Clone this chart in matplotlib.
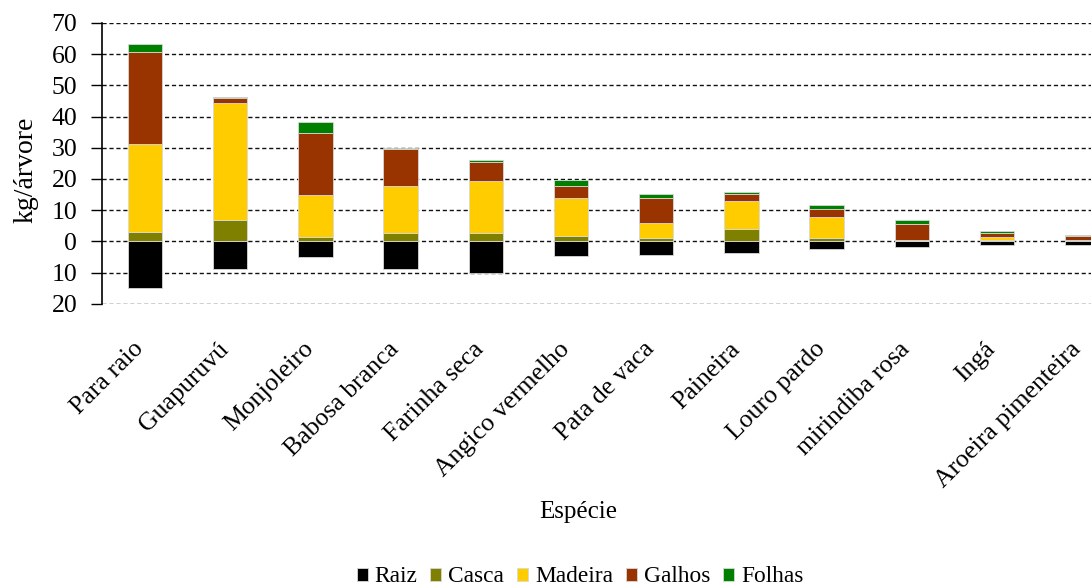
import matplotlib
matplotlib.use("Agg")
import matplotlib.pyplot as plt
from matplotlib.ticker import FuncFormatter
from matplotlib.transforms import ScaledTranslation
import numpy as np

plt.rcParams['font.family'] = ['Liberation Serif', 'DejaVu Serif']

species = ["Para raio", "Guapuruvú", "Monjoleiro", "Babosa branca", "Farinha seca",
           "Angico vermelho", "Pata de vaca", "Paineira", "Louro pardo",
           "mirindiba rosa", "Ingá", "Aroeira pimenteira"]

# kg per tree for each compartment (roots plotted below zero)
raiz = [-15.0, -8.9, -5.1, -8.9, -10.2, -4.7, -4.4, -3.6, -2.4, -1.9, -1.2, -1.2]
casca = [2.9, 6.7, 1.3, 2.7, 2.7, 1.7, 1.0, 3.9, 1.0, 0.1, 0.3, 0.3]
madeira = [28.4, 37.5, 13.6, 15.1, 16.7, 12.3, 4.9, 9.0, 6.9, 0.2, 1.1, 0.3]
galhos = [29.3, 1.6, 19.7, 11.7, 6.2, 3.8, 8.1, 2.4, 2.4, 5.2, 1.3, 1.1]
folhas = [2.5, 0.4, 3.8, 0.4, 0.4, 2.0, 1.3, 0.5, 1.3, 1.2, 0.6, 0.4]

yticks = [-20, -10, 0, 10, 20, 30, 40, 50, 60, 70]

colors = {"Raiz": "#000000", "Casca": "#808000", "Madeira": "#FFCC00",
          "Galhos": "#993300", "Folhas": "#008000"}

TICK_FS = 18.5
LABEL_FS = 18
LEG_FS = 16.8

fig = plt.figure(figsize=(10.91, 5.88), dpi=100)
ax = fig.add_axes([0.0938, 0.4828, 0.9371, 0.4787])

x = np.arange(len(species))
w = 0.404
edge = dict(edgecolor="#d8d8d8", linewidth=0.6)

ax.bar(x, raiz, w, color=colors["Raiz"], label="Raiz", zorder=3, **edge)
bottom = np.zeros(len(species))
for name, vals in [("Casca", casca), ("Madeira", madeira),
                   ("Galhos", galhos), ("Folhas", folhas)]:
    ax.bar(x, vals, w, bottom=bottom, color=colors[name], label=name,
           zorder=3, **edge)
    bottom += np.array(vals)

ax.set_xlim(-0.5, len(species) - 0.5)
ax.set_ylim(-20.1, 70.1)
ax.set_yticks(yticks)
ax.yaxis.set_major_formatter(FuncFormatter(lambda v, p: f"{abs(int(round(v)))}"))
ax.grid(axis="y", color="#111111", linestyle=(0, (3, 2)), linewidth=1.0, zorder=0)
ax.set_axisbelow(True)

for s in ["top", "right", "bottom"]:
    ax.spines[s].set_visible(False)
ax.spines["left"].set_linewidth(1.2)
ax.spines["left"].set_bounds(-20, 70)

ax.tick_params(axis="y", direction="out", length=8, width=1.0, labelsize=TICK_FS, pad=10)
ax.tick_params(axis="x", length=0, labelsize=TICK_FS, pad=30)
ax.set_xticks(x)
ax.set_xticklabels(species, rotation=45, ha="right", va="center",
                   rotation_mode="anchor")
shift = ScaledTranslation(-5 / 100, 0, fig.dpi_scale_trans)
for lab in ax.get_xticklabels():
    lab.set_transform(lab.get_transform() + shift)

ax.set_ylabel("kg/árvore", fontsize=20)
ax.yaxis.label.set_va("center")
ax.yaxis.set_label_coords(-0.075, 0.476)

fig.text(578 / 1091, 1 - 512 / 588, "Espécie", fontsize=LABEL_FS,
         ha="center", va="center")

handles, labels = ax.get_legend_handles_labels()
fig.legend(handles, labels, loc="center", bbox_to_anchor=(580 / 1091, 1 - 577 / 588),
           ncol=5, frameon=False, fontsize=LEG_FS, handlelength=0.47,
           handleheight=0.47, handletextpad=0.3, columnspacing=0.55,
           borderaxespad=0)

fig.savefig("out.png", dpi=100)
